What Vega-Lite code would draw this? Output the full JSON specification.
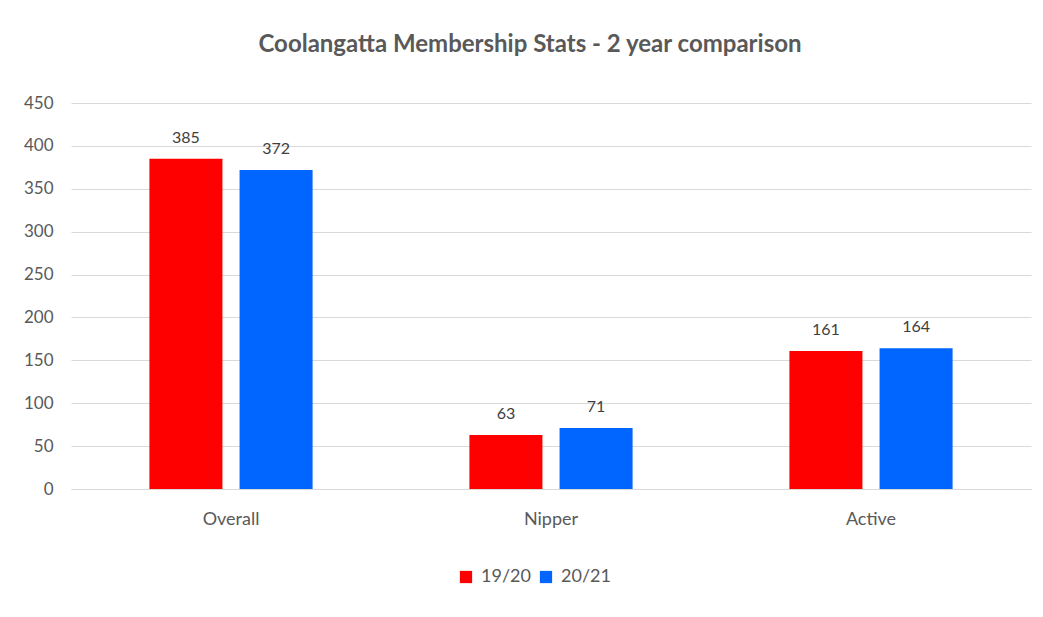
{
  "$schema": "https://vega.github.io/schema/vega-lite/v6.json",
  "autosize": {"type": "none"},
  "width": 960,
  "height": 386,
  "padding": {"left": 71, "top": 103, "right": 12, "bottom": 128},
  "background": "white",
  "title": {
    "text": "Coolangatta Membership Stats - 2 year comparison",
    "font": "Lato",
    "fontSize": 24,
    "fontWeight": "bold",
    "color": "#595959",
    "anchor": "middle",
    "dx": -21,
    "offset": 37
  },
  "data": {
    "values": [
      {"category": "Overall", "season": "19/20", "members": 385},
      {"category": "Overall", "season": "20/21", "members": 372},
      {"category": "Nipper", "season": "19/20", "members": 63},
      {"category": "Nipper", "season": "20/21", "members": 71},
      {"category": "Active", "season": "19/20", "members": 161},
      {"category": "Active", "season": "20/21", "members": 164}
    ]
  },
  "encoding": {
    "x": {
      "field": "category",
      "type": "nominal",
      "sort": ["Overall", "Nipper", "Active"],
      "scale": {"paddingInner": 0.49, "paddingOuter": 0.245},
      "axis": {
        "title": null,
        "labelAngle": 0,
        "labelFont": "Lato",
        "labelFontSize": 18,
        "labelColor": "#595959",
        "labelPadding": 21,
        "ticks": false,
        "domain": true,
        "domainColor": "#d9d9d9"
      }
    },
    "xOffset": {
      "field": "season",
      "type": "nominal",
      "scale": {"paddingInner": 0.19, "paddingOuter": 0}
    },
    "y": {
      "field": "members",
      "type": "quantitative",
      "scale": {"domain": [0, 450]},
      "axis": {
        "title": null,
        "values": [0, 50, 100, 150, 200, 250, 300, 350, 400, 450],
        "labelFont": "Lato",
        "labelFontSize": 17,
        "labelColor": "#595959",
        "labelPadding": 18,
        "ticks": false,
        "domain": false,
        "grid": true,
        "gridColor": "#d9d9d9",
        "gridWidth": 1
      }
    }
  },
  "layer": [
    {
      "mark": {"type": "bar"},
      "encoding": {
        "color": {
          "field": "season",
          "type": "nominal",
          "scale": {"domain": ["19/20", "20/21"], "range": ["#FF0000", "#0066FF"]},
          "legend": {
            "title": null,
            "orient": "none",
            "direction": "horizontal",
            "legendX": 386,
            "legendY": 465,
            "symbolType": "square",
            "symbolSize": 150,
            "symbolStrokeWidth": 0,
            "labelFont": "Lato",
            "labelFontSize": 18,
            "labelColor": "#595959",
            "columnPadding": 6,
            "labelOffset": 6
          }
        }
      }
    },
    {
      "mark": {
        "type": "text",
        "dy": -13,
        "baseline": "bottom",
        "font": "Lato",
        "fontSize": 16,
        "color": "#404040"
      },
      "encoding": {
        "text": {"field": "members", "type": "quantitative"}
      }
    }
  ],
  "config": {
    "view": {"stroke": null}
  }
}
